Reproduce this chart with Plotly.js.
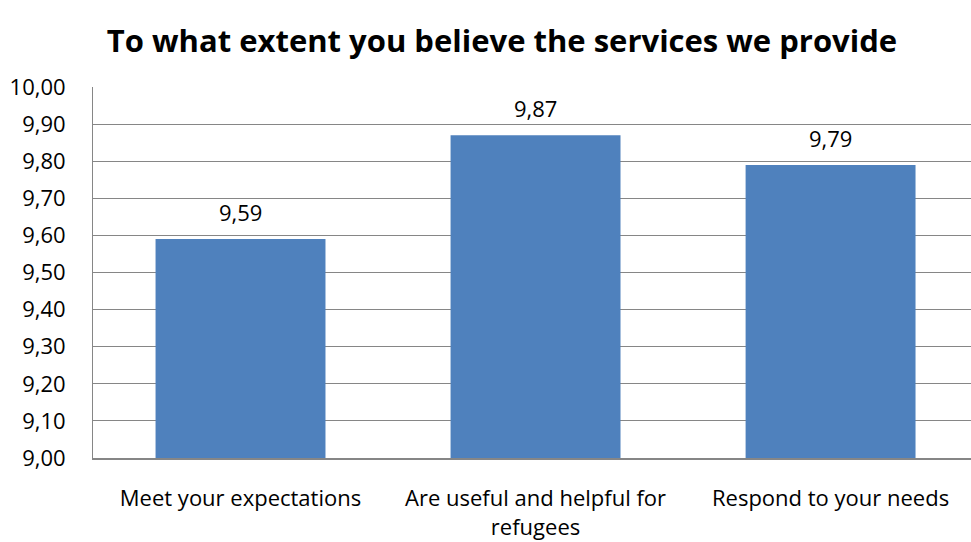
<!DOCTYPE html>
<html>
<head>
<meta charset="utf-8">
<script src="https://cdn.plot.ly/plotly-3.0.1.min.js"></script>
<style>html,body{margin:0;padding:0;background:#fff;}#chart{width:971px;height:542px;}</style>
</head>
<body>
<div id="chart"></div>
<script>
var categories = ["Meet your expectations", "Are useful and helpful for<br>refugees", "Respond to your needs"];
var values = [9.59, 9.87, 9.79];
var yTicks = [9.0, 9.1, 9.2, 9.3, 9.4, 9.5, 9.6, 9.7, 9.8, 9.9, 10.0];
var titleText = "To what extent you believe the services we provide";

var xPos = values.map(function(v, i){ return i; });

var trace = {
  type: "bar",
  x: xPos,
  y: values,
  width: 0.576,
  marker: {color: "#4F81BD", line: {width: 0}},
  hoverinfo: "none"
};

var annotations = values.map(function(v, i){
  return {
    x: xPos[i], y: v, xref: "x", yref: "y",
    text: v.toFixed(2).replace(".", ","),
    showarrow: false, yanchor: "middle", yshift: 27,
    font: {family: "Open Sans, sans-serif", size: 22, color: "#000"}
  };
});

var layout = {
  width: 971, height: 542,
  margin: {l: 93, r: 0, t: 87, b: 84},
  separators: ",.",
  paper_bgcolor: "#fff", plot_bgcolor: "#fff",
  showlegend: false,
  annotations: annotations,
  title: {text: "<b>" + titleText + "</b>", font: {family: "Open Sans, sans-serif", size: 31, color: "#000"}, x: 0.517, xanchor: "center", y: 0.925, yanchor: "middle"},
  xaxis: {
    range: [-0.5, 2.476],
    tickvals: xPos,
    ticktext: categories,
    showgrid: false, zeroline: false,
    showline: true, linecolor: "#868686", linewidth: 2,
    ticks: "", ticklabelstandoff: 20,
    tickfont: {family: "Open Sans, sans-serif", size: 22, color: "#000"},
    fixedrange: true
  },
  yaxis: {
    range: [9.0, 10.0],
    tickvals: yTicks,
    tickformat: ".2f",
    showgrid: true, gridcolor: "#868686", gridwidth: 1,
    zeroline: false,
    showline: true, linecolor: "#868686", linewidth: 1,
    ticks: "", ticklabelstandoff: 22,
    tickfont: {family: "Open Sans, sans-serif", size: 22, color: "#000"},
    fixedrange: true
  }
};

Plotly.newPlot("chart", [trace], layout, {staticPlot: true, displayModeBar: false});
</script>
</body>
</html>
